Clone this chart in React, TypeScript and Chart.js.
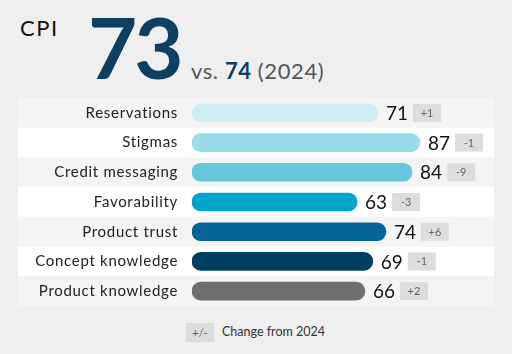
import React, { useEffect, useRef } from "react";
import { Chart, registerables } from "chart.js";

Chart.register(...registerables);

const categories = [
  "Reservations",
  "Stigmas",
  "Credit messaging",
  "Favorability",
  "Product trust",
  "Concept knowledge",
  "Product knowledge",
];
const values = [71, 87, 84, 63, 74, 69, 66];
const changes = ["+1", "-1", "-9", "-3", "+6", "-1", "+2"];
const barColors = ["#cdeef5", "#9bdcec", "#66c8de", "#00a3c9", "#056596", "#003f63", "#6f6f6f"];
const currentScore = "73";
const previousScore = "74";
const previousYear = "2024";

const FONT = "Lato, 'Open Sans', sans-serif";

const rowPlugin = {
  id: "rows",
  beforeDraw(chart: any) {
    const { ctx, chartArea, scales } = chart;
    const y = scales.y;
    const band = chartArea.height / categories.length;
    ctx.save();
    categories.forEach((_, i) => {
      const c = y.getPixelForValue(i);
      ctx.fillStyle = i % 2 === 0 ? "#f4f4f4" : "#ffffff";
      ctx.fillRect(0, c - band / 2, chart.width, band);
    });
    ctx.restore();
    (ctx as any).letterSpacing = "0.7px";
  },
  afterDatasetsDraw(chart: any) {
    const { ctx } = chart;
    (ctx as any).letterSpacing = "0px";
    const meta = chart.getDatasetMeta(0);
    ctx.save();
    meta.data.forEach((el: any, i: number) => {
      const x = el.x + 8;
      const y = el.y;
      ctx.font = `19px ${FONT}`;
      ctx.fillStyle = "#111111";
      ctx.textBaseline = "middle";
      ctx.textAlign = "left";
      const label = String(values[i]);
      ctx.fillText(label, x, y + 1);
      const w = ctx.measureText(label).width;
      const bx = x + w + 5;
      ctx.fillStyle = "#dddddd";
      ctx.fillRect(bx, y - 9, 28, 18);
      ctx.font = `11px ${FONT}`;
      ctx.fillStyle = "#666666";
      ctx.textAlign = "center";
      ctx.fillText(changes[i], bx + 14, y + 0.5);
    });
    ctx.restore();
  },
};

export default function App() {
  const ref = useRef<HTMLCanvasElement | null>(null);
  useEffect(() => {
    if (!ref.current) return;
    const chart = new Chart(ref.current, {
      type: "bar",
      data: {
        labels: categories,
        datasets: [
          {
            data: values,
            backgroundColor: barColors,
            barThickness: 18,
            borderRadius: 9,
            borderSkipped: false,
          },
        ],
      },
      options: {
        animation: false,
        responsive: false,
        indexAxis: "y",
        layout: { padding: { left: 0, right: 40, top: 0, bottom: 0 } },
        plugins: { legend: { display: false }, tooltip: { enabled: false } },
        scales: {
          x: { display: false, min: 0, max: 100 },
          y: {
            grid: { display: false, drawTicks: false },
            border: { display: false },
            ticks: {
              color: "#222222",
              font: { family: FONT, size: 15 },
              padding: 14,
            },
            afterFit(scale: any) {
              scale.width = 174;
              scale.paddingTop = 0;
              scale.paddingBottom = 0;
            },
          },
        },
      } as any,
      plugins: [rowPlugin],
    });
    return () => chart.destroy();
  }, []);

  const abs = (s: any): React.CSSProperties => ({ position: "absolute", whiteSpace: "nowrap", ...s });

  return (
    <div style={{ position: "fixed", left: 0, top: 0, width: 512, height: 354, background: "#efefef", fontFamily: FONT, overflow: "hidden" }}>
      <div style={abs({ left: 20, top: 16.5, fontSize: 22, lineHeight: "22px", color: "#111", letterSpacing: 1.5 })}>CPI</div>
      <div style={abs({ left: 88, top: 4, fontSize: 85, lineHeight: "85px", fontWeight: 700, color: "#0d3f60", letterSpacing: -3 })}>{currentScore}</div>
      <div style={abs({ left: 191, top: 59.5, fontSize: 22, lineHeight: "22px", color: "#555", letterSpacing: 0.6 })}>
        vs. <span style={{ fontWeight: 700, color: "#0d3f60" }}>{previousScore}</span> ({previousYear})
      </div>
      <canvas ref={ref} width={476} height={208} style={{ position: "absolute", left: 18, top: 98, width: 476, height: 208 }} />
      <div style={abs({ left: 186, top: 323, width: 28, height: 19, background: "#dcdcdc", color: "#666", fontSize: 11, lineHeight: "19px", textAlign: "center" })}>+/-</div>
      <div style={abs({ left: 222, top: 326, fontSize: 12.5, lineHeight: "12.5px", color: "#333" })}>Change from {previousYear}</div>
    </div>
  );
}
